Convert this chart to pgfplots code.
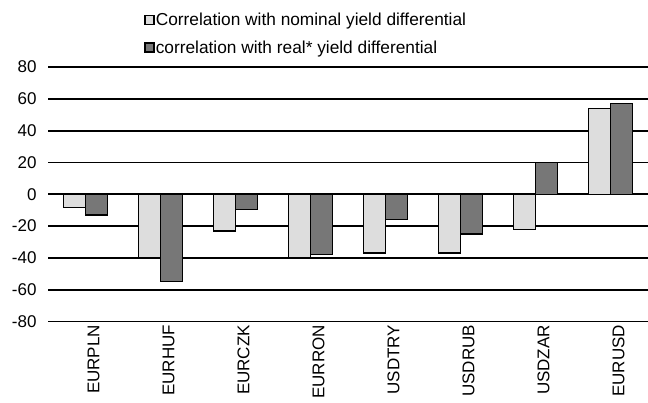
\documentclass[border=0pt]{standalone}
\usepackage{pgfplots}
\pgfplotsset{compat=1.18}
\usepackage{fontspec}
\setmainfont{Liberation Sans}
\definecolor{nomfill}{HTML}{DDDDDD}
\definecolor{realfill}{HTML}{777777}
\begin{document}
\begin{tikzpicture}
\useasboundingbox (-48bp,-81.5bp) rectangle (600bp,321.5bp);
\begin{axis}[
  scale only axis,
  width=600bp, height=254.5bp,
  xmin=-0.5, xmax=7.5,
  ymin=-80, ymax=80,
  ytick={-80,-60,-40,-20,0,20,40,60,80},
  yticklabels={-80,-60,-40,-20,0,20,40,60,80},
  xtick={0,1,2,3,4,5,6,7},
  xticklabels={EURPLN,EURHUF,EURCZK,EURRON,USDTRY,USDRUB,USDZAR,EURUSD},
  axis line style={draw=none},
  major tick length=0pt,
  ymajorgrids,
  grid style={black, line width=1.8bp},
  tick label style={font=\fontsize{17bp}{20bp}\selectfont},
  xticklabel style={rotate=90, anchor=east},
  x tick label style={yshift=-8bp},
  y tick label style={xshift=-8bp},
  ybar,
  bar width=0.29,
  legend style={draw=none, fill=none, at={(axis description cs:0.16,1.217)}, anchor=north west,
    font=\fontsize{17.3bp}{20bp}\selectfont, inner sep=0pt, row sep=11bp,
    nodes={inner sep=1.2bp}},
  legend cell align=left,
  legend image code/.code={\draw[#1, line width=1.4bp] (0bp,-4.5bp) rectangle (9bp,4.5bp);},
]
\addplot[fill=nomfill, draw=black, line width=1.4bp, bar shift=-0.145] coordinates {
(0,-8.5) (1,-40) (2,-23) (3,-40) (4,-37) (5,-37) (6,-22) (7,54)};
\addlegendentry{Correlation with nominal yield differential}
\addplot[fill=realfill, draw=black, line width=1.4bp, bar shift=0.145] coordinates {
(0,-13) (1,-55) (2,-9.5) (3,-38) (4,-16) (5,-25) (6,20) (7,57)};
\addlegendentry{correlation with real* yield differential}
\end{axis}
\end{tikzpicture}
\end{document}
